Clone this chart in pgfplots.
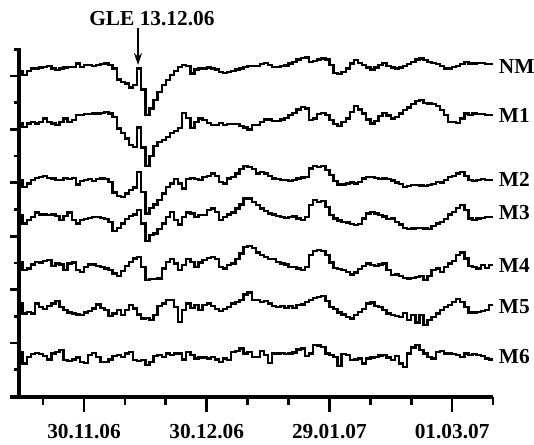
\documentclass[border=0pt]{standalone}
\usepackage{fontspec}
\setmainfont{Liberation Serif}
\usepackage{pgfplots}
\pgfplotsset{compat=1.18}
\usepackage{pgfplotstable}
\usetikzlibrary{arrows.meta}

\pgfplotstableread{
d nm m1 m2 m3 m4 m5 m6
-16 70.7 122.7 180 215 261.7 303.3 351.7
-15 75 126.7 186.7 223.3 270 313.3 363.3
-14 70.7 123.3 183.3 220 268.3 311.7 356.7
-13 68.3 121.7 180 216.7 264.3 313.3 354
-12 68.3 123.3 177.7 212.3 261.7 303.3 352.7
-11 67.3 121.7 176.7 214.3 262.3 306.7 354
-10 66.7 118.3 175.7 214.3 261 309 356
-9 66 121.7 177.7 215 260 305.7 359.3
-8 68.3 123.3 178.3 214.3 265.7 303.3 353.3
-7 70 125 180 215.7 263.3 301 351.7
-6 68.3 121.7 180 220 264.3 306.7 350
-5 67.3 118.3 177.7 215.7 270 310 360
-4 66.7 121.7 179 212.3 263.3 312.3 360.7
-3 66.7 120 177.7 220 262.3 313.3 359.3
-2 63.3 115 184.3 223.3 270 314.3 357.3
-1 66.7 115 181 220 271.7 315 361.7
0 65 114 180 219 266.7 312.3 362.7
1 65 114 179 217.7 264.3 311 355
2 66 113.3 181 217 264.3 308.3 352.7
3 65 113.3 179 216.7 265.7 304.3 356.7
4 64 112.7 178.3 217.7 266.7 307.7 361.7
5 63.3 111.7 179 219 268.3 310 361.7
6 65 113.3 181.7 221.7 270 315.7 359.3
7 68.3 116.7 192.3 231 273.3 313.3 356
8 79.3 128.3 195.7 227.7 275.7 310 355
9 81.7 132.7 196.7 223.3 271 315 356.7
10 83.3 138.3 193.3 219 265.7 310 353.3
11 87.3 145 190 215.7 261.7 305 351.7
12 85 146.7 187.3 214.3 258.3 308.3 360
13 68.3 127.3 171.7 210 256.7 314.3 360.7
14 89.3 147.3 191.7 223.3 266.7 318.3 360
15 115 166 213.3 241 280 317.7 365
16 108.3 156 207.7 235 279 320 361.7
17 100 146 204.3 233.3 279 315 356
18 91.7 142 200 229 278.3 305.7 355
19 85 140 193.3 223.3 268.3 303.3 356.7
20 80 137 186.7 216.7 261.7 300 353.3
21 75 133 183.3 211.7 259 300 355
22 70.7 131 179 220 263.3 306.7 353.3
23 66.7 128 183.3 224.3 270 321.7 353.3
24 65 113 188.3 216.7 265 310 359.3
25 66 118 179 212.3 259 303.3 351.7
26 73.3 128 177.7 213.3 261.7 307.7 355
27 69.3 121.7 179 216.7 266.7 305 358.3
28 68.3 118.3 180 215 262.3 310 357.3
29 68.3 120 176.7 215 260 305 357.3
30 67.3 123 175.7 210 257.7 303.3 358.3
31 68.3 125 173.3 208.3 256.7 305.7 356.7
32 69.3 125 175.7 211.7 259 309 359.3
33 71.7 123 181.7 220 266.7 311 361.7
34 72.7 125 183.3 216.7 268.3 309 358.3
35 71.7 124 178.3 214.3 265 306.7 360
36 70.7 124 176.7 212.3 263.3 303.3 351.7
37 69.3 124 173.3 208.3 259 301.7 350.7
38 68.3 126 169 204.3 253.3 300 348.3
39 66.7 127.3 165.7 198.3 246.7 294.3 353.3
40 66 129.3 166.7 198.3 245.7 292.3 351.7
41 66 125 169 201.7 247.7 300 356.7
42 66 125 173.3 205 252.3 300 356.7
43 64 121.7 171.7 208.3 255 301.7 350.7
44 62.7 119.3 173.3 211 256.7 301 355
45 65 119.3 175.7 213.3 259 303.3 362.7
46 66.7 120.7 178.3 214.3 259 305.7 353.3
47 66.7 120.7 179 215.7 261.7 306.7 353.3
48 66 119.3 180 216.7 263.3 305.7 352.7
49 65.3 118 180 217.7 264.3 307.7 354
50 63.3 115 181 217 266.7 305.7 353.3
51 61.7 112.7 179.7 216.3 267 307.7 352.3
52 59.3 109.3 178.3 218.3 268.3 305 349.3
53 58 106.7 177.3 220 270 304.3 348.3
54 57.3 108.3 176.7 216.7 266.7 301.7 356
55 61.7 120 168.3 205 255 300 353.3
56 60.7 118.3 165.7 200 251 297.7 345
57 59.3 114 166.7 201.7 250 296.7 345.3
58 58.3 112.7 165.7 201 251 295.7 346.7
59 59.3 115 170 206.7 255 301 353.3
60 65 120 175 215 262.3 306.7 355
61 72.7 124 181 218.3 267.7 309 356.7
62 74 126 184.3 220.3 269 312.3 366
63 71.7 121.7 184.3 221.7 270 314.3 354
64 68.3 118.3 183.3 222.3 271.7 316.7 354.7
65 63.3 111.7 182.3 223.7 274.3 318.3 360
66 60 106 183.3 225 272.3 315 359.3
67 62.7 109.3 181.7 223.7 269 311.7 358.3
68 65 113.3 178.3 218.3 265.7 309 363.3
69 67.3 119.3 176.7 213.3 263.3 303.3 358.3
70 69.3 123.3 177 211.7 265 302.3 357.3
71 67.3 120.7 177.7 213.3 265.7 305.7 356.7
72 65 116 179 215 264.3 306.7 355.3
73 62.7 112.7 178.3 216.3 263.3 310 355
74 66 115.3 179 219 270 313.3 357.3
75 67.3 118.3 180.3 218.3 275 315 360
76 68.3 116.7 182.3 221.7 274.3 315.7 356
77 67.3 113.3 183.7 224.3 275.7 317 363.3
78 66 110 186.7 227.7 277.7 312.7 366.7
79 64 107.3 186 229 278.3 320 353.3
80 61.7 104 185 228.3 277.7 315 347.3
81 59.3 100.7 185 227.7 276.7 322.3 345
82 58.3 100 185.3 227.7 275.7 315 350
83 60 102.7 185.7 228.3 280 325 353.3
84 61.7 103.3 185 229 275.7 320 356.7
85 62.7 104 183.7 225.7 270 316.7 358.3
86 64 106 181.7 223.3 268.3 313.3 351.7
87 66 110 182.3 221.7 271.7 310 350.7
88 68.3 115 179.7 219 266.7 306.7 353.3
89 68.3 121.7 177 214.3 263.3 305 353.3
90 66.7 121.7 175.7 211.7 261 301.7 354
91 66 122.7 173.3 207.7 255 299 355
92 64 118.3 171.7 205 252.3 301.7 356.7
93 61.7 113.3 175.7 210 258.3 306.7 353.3
94 63.3 115 180 218.3 265.7 312.3 355
95 63.3 113.3 181 220 267 312.3 354
96 62.7 114 179.7 218.3 268.3 311.7 354.7
97 62.7 114 179 217.7 265 311 356
98 64 115 180 217 267.7 310 358.3
99 64 115 180 216.7 265 305 359.3
100 64 115 180 216.7 265 305 359.3
}\data

\begin{document}
\begin{tikzpicture}
\begin{axis}[
  name=ax,
  scale only axis,
  width=355.5pt, height=261.75pt,
  xmin=-15.9, xmax=100,
  ymin=48, ymax=397,
  y dir=reverse,
  axis x line*=bottom, axis y line*=left,
  axis line style={line width=2.3pt,-},
  x axis line style={shorten <=-6.75pt},
  tick align=outside,
  tick style={line width=2pt,black},
  xtick={0,30,60,90},
  xticklabels={30.11.06,30.12.06,29.01.07,01.03.07},
  minor xtick={-10,10,20,40,50,70,80,100},
  ytick={76,129.4,182.8,236.2,289.6,343},
  minor ytick={49.3,102.7,156.1,209.5,262.9,316.3,369.7},
  yticklabels={},
  xtick style={/pgfplots/major tick length=11.25pt,/pgfplots/minor tick length=6pt},
  ytick style={/pgfplots/major tick length=6.75pt,/pgfplots/minor tick length=4pt},
  x tick label style={font=\bfseries\fontsize{16}{18}\selectfont, yshift=-13pt},
  clip=false,
  cycle list={{black,solid,line width=1.8pt}},
]
\addplot[const plot,black,solid,line width=1.8pt] table[x=d,y=nm]{\data};
\addplot[const plot,black,solid,line width=1.8pt] table[x=d,y=m1]{\data};
\addplot[const plot,black,solid,line width=1.8pt] table[x=d,y=m2]{\data};
\addplot[const plot,black,solid,line width=1.8pt] table[x=d,y=m3]{\data};
\addplot[const plot,black,solid,line width=1.8pt] table[x=d,y=m4]{\data};
\addplot[const plot,black,solid,line width=1.8pt] table[x=d,y=m5]{\data};
\addplot[const plot,black,solid,line width=1.8pt] table[x=d,y=m6]{\data};
\begin{scope}[font=\bfseries\fontsize{16}{18}\selectfont]
\node[anchor=west,inner sep=0pt] at (axis cs:101.4,67) {NM};
\node[anchor=west,inner sep=0pt] at (axis cs:101.4,115) {M1};
\node[anchor=west,inner sep=0pt] at (axis cs:101.4,179) {M2};
\node[anchor=west,inner sep=0pt] at (axis cs:101.4,213) {M3};
\node[anchor=west,inner sep=0pt] at (axis cs:101.4,265) {M4};
\node[anchor=west,inner sep=0pt] at (axis cs:101.4,307) {M5};
\node[anchor=west,inner sep=0pt] at (axis cs:101.4,357) {M6};
\node[inner sep=0pt] at (axis cs:16.6,19) {GLE 13.12.06};
\end{scope}
\draw[line width=1.5pt,-{Stealth[length=9pt,width=6pt]}] (axis cs:13.2,28) -- (axis cs:13.2,65);
\end{axis}
\pgfresetboundingbox
\path[use as bounding box] ([shift={(-14.25pt,-35.25pt)}]ax.south west) rectangle ([shift={(386.25pt,297.75pt)}]ax.south west);
\end{tikzpicture}
\end{document}
